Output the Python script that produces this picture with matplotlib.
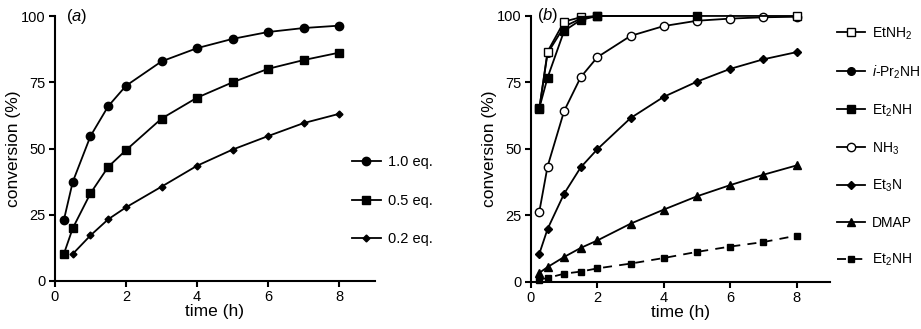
import matplotlib.pyplot as plt

plt.rcParams['font.family'] = ['Liberation Sans', 'DejaVu Sans']
plt.rcParams['mathtext.fontset'] = 'custom'
plt.rcParams['mathtext.rm'] = 'Liberation Sans'
plt.rcParams['mathtext.it'] = 'Liberation Sans:italic'

# panel (a): catalyst loading
t_a = [0.25, 0.5, 1, 1.5, 2, 3, 4, 5, 6, 7, 8]
eq10 = [23, 37.4, 54.7, 66, 73.7, 82.9, 87.9, 91.4, 94, 95.5, 96.4]
eq05 = [10.2, 19.9, 33.1, 43.1, 49.4, 61.3, 69.2, 75, 80.1, 83.4, 86.2]
t_a02 = [0.5, 1, 1.5, 2, 3, 4, 5, 6, 7, 8]
eq02 = [10.2, 17.2, 23.3, 27.8, 35.6, 43.5, 49.6, 54.7, 59.6, 63.1]

# panel (b): amines
t_fast = [0.25, 0.5, 1, 1.5, 2]
etnh2 = [65, 86.6, 97.9, 99.5, 100, 100]
t_etnh2 = t_fast + [8]
ipr2nh = [65, 86, 96, 99, 100]
et2nh = [65.3, 76.8, 94.4, 98.5, 100, 100]
t_et2nh = t_fast + [5]
t_b = [0.25, 0.5, 1, 1.5, 2, 3, 4, 5, 6, 7, 8]
nh3 = [26.3, 43.4, 64.3, 77, 84.5, 92.5, 96.2, 98.2, 99, 99.5, 99.7]
et3n = [10.5, 19.9, 33.2, 43.1, 49.9, 61.6, 69.6, 75.3, 80.1, 83.7, 86.4]
dmap = [3.4, 5.6, 9.4, 12.8, 15.6, 21.9, 27.2, 32.2, 36.4, 40.3, 43.8]
et2nh_b = [0.9, 1.5, 3.1, 3.9, 5.1, 6.9, 9, 11.3, 13.3, 15, 17.4]

fig = plt.figure(figsize=(9.21, 3.29), dpi=100)
ax1 = fig.add_axes([0.0597, 0.146, 0.347, 0.805])
ax2 = fig.add_axes([0.5765, 0.143, 0.3244, 0.8085])


def style(ax):
    ax.set_xlim(0, 9)
    ax.set_ylim(0, 100)
    ax.set_xticks([0, 2, 4, 6, 8])
    ax.set_yticks([0, 25, 50, 75, 100])
    for s in ['top', 'right']:
        ax.spines[s].set_visible(False)
    for s in ['left', 'bottom']:
        ax.spines[s].set_linewidth(1.5)
    ax.tick_params(direction='out', length=4, width=1.5, labelsize=10.5, pad=2.5)
    ax.set_xlabel('time (h)', fontsize=12.5, labelpad=0)
    ax.set_ylabel('conversion (%)', fontsize=12.5, labelpad=0)


kw = dict(color='black', lw=1.3, markeredgecolor='black', clip_on=False)
ax1.plot(t_a, eq10, marker='o', ms=6, label='1.0 eq.', **kw)
ax1.plot(t_a, eq05, marker='s', ms=5.5, label='0.5 eq.', **kw)
ax1.plot(t_a02, eq02, marker='D', ms=3.5, label='0.2 eq.', **kw)
style(ax1)
ax1.text(0.3, 100, '($a$)', fontsize=12, va='center')
ax1.legend(loc='upper left', bbox_to_anchor=(0.382, 0.528), bbox_transform=fig.transFigure,
           frameon=False, fontsize=10.5, handlelength=2.0, labelspacing=1.68, handletextpad=0.5,
           borderpad=0, borderaxespad=0)

ax2.plot(t_fast, ipr2nh, marker='o', ms=5.5, label='$i$-Pr$_2$NH', zorder=2, **kw)
ax2.plot(t_etnh2, etnh2, marker='s', ms=5.5, markerfacecolor='white', label='EtNH$_2$', zorder=3, **kw)
ax2.plot(t_et2nh, et2nh, marker='s', ms=5.5, label='Et$_2$NH', zorder=4, **kw)
ax2.plot(t_b, nh3, marker='o', ms=6, markerfacecolor='white', label='NH$_3$', **kw)
ax2.plot(t_b, et3n, marker='D', ms=4.5, label='Et$_3$N', **kw)
ax2.plot(t_b, dmap, marker='^', ms=6, label='DMAP', **kw)
ax2.plot(t_b, et2nh_b, marker='s', ms=5, ls=(0, (5, 4)), label='Et$_2$NH', **kw)
style(ax2)
ax2.text(0.18, 100, '($b$)', fontsize=12, va='center')

h, l = ax2.get_legend_handles_labels()
order = [1, 0, 2, 3, 4, 5, 6]
ax2.legend([h[i] for i in order], [l[i] for i in order], loc='upper left',
           bbox_to_anchor=(0.909, 0.923), bbox_transform=fig.transFigure,
           frameon=False, fontsize=10, handlelength=2.0, labelspacing=1.55, handletextpad=0.5,
           borderpad=0, borderaxespad=0)

fig.savefig('out.png', dpi=100)
